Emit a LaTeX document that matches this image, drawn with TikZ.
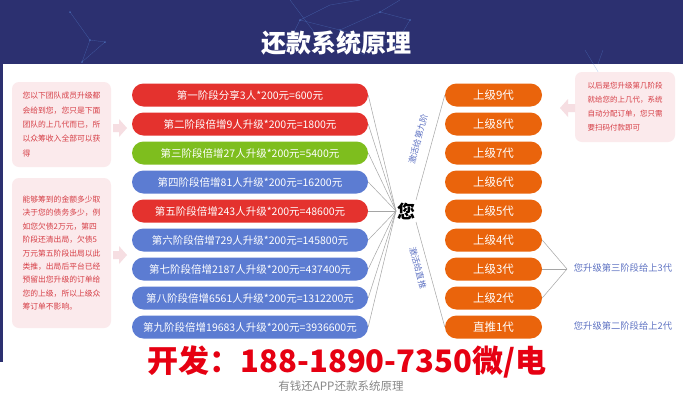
\documentclass[tikz,border=0pt]{standalone}
\usepackage{fontspec}
\setmainfont{Noto Sans CJK SC}
\definecolor{navy}{RGB}{44,48,112}
\definecolor{pred}{RGB}{228,50,46}
\definecolor{pgreen}{RGB}{126,190,30}
\definecolor{pblue}{RGB}{92,124,210}
\definecolor{porange}{RGB}{234,100,12}
\definecolor{boxpink}{RGB}{251,234,236}
\definecolor{arrpink}{RGB}{246,222,226}
\definecolor{txtpink}{RGB}{214,62,70}
\definecolor{lblue}{RGB}{95,115,195}
\definecolor{lgray}{RGB}{165,165,165}
\definecolor{bigred}{RGB}{230,0,18}
\definecolor{capgray}{RGB}{135,135,135}
\definecolor{netblue}{RGB}{90,140,220}
\tikzset{
  lpill/.style={rectangle, rounded corners=11.5pt, minimum width=236pt, minimum height=23pt,
    inner sep=0pt, text=white, font=\fontsize{10.5}{12}\selectfont},
  rpill/.style={rectangle, rounded corners=11.5pt, fill=porange, minimum width=97pt, minimum height=23pt,
    inner sep=0pt, text=white, font=\fontsize{11.5}{13}\selectfont},
  conn/.style={draw=lgray, line width=0.5pt},
  infobox/.style={rectangle, rounded corners=7pt, fill=boxpink, inner sep=0pt, align=left, text=txtpink},
  sidelbl/.style={text=lblue, font=\fontsize{8.5}{10}\selectfont, inner sep=1pt},
  notelbl/.style={text=lblue, font=\fontsize{9.3}{11}\selectfont, inner sep=0pt},
}
\begin{document}
\begin{tikzpicture}[x=1pt,y=-1pt]
\useasboundingbox (0,0) rectangle (683,400);
\fill[white] (0,0) rectangle (683,400);
\fill[navy] (0,0) rectangle (683,64);
\fill[navy] (0,0) rectangle (3,362);
% faint network decoration
\begin{scope}[draw=netblue, line width=0.3pt, opacity=0.45]
\draw (285,50) -- (300,20) -- (330,5) -- (360,0);
\draw (300,20) -- (340,30) -- (380,12) -- (400,0);
\draw (340,30) -- (395,45) -- (410,20) -- (380,12);
\draw (290,0) -- (320,40) -- (365,55);
\draw (70,12) -- (90,40) -- (82,62) -- (105,42) -- (90,40);
\draw (585,50) -- (600,75);
\draw (603,50) -- (598,64);
\end{scope}
\foreach \p in {(300,20),(340,30),(380,12),(395,45),(410,20),(320,40),(90,40),(105,42),(82,62),(70,12)}
  \fill[netblue, opacity=0.5] \p circle (1pt);
% title
\node[text=white, font=\fontsize{25}{28}\selectfont\bfseries] (title) at (336,43) {还款系统原理};
% left info boxes
\node[infobox, minimum width=99pt, minimum height=85pt, font=\fontsize{7.8}{14.3}\selectfont] (box1) at (61.5,124.5)
 {您以下团队成员升级都\\会给到您，您只是下面\\团队的上几代而已，所\\以众筹收入全部可以获\\得};
\node[infobox, minimum width=99pt, minimum height=150pt, font=\fontsize{7.8}{13.4}\selectfont] (box2) at (61.5,253)
 {能够筹到的金额多少取\\决于您的债务多少，例\\如您欠债2万元，第四\\阶段还清出局，欠债5\\万元第五阶段出局以此\\类推，出局后平台已经\\预留出您升级的订单给\\您的上级，所以上级众\\筹订单不影响。};
\node[infobox, minimum width=100pt, minimum height=70pt, font=\fontsize{7.5}{14}\selectfont] (box3) at (625,107)
 {以后是您升级第几阶段\\就给您的上几代，系统\\自动分配订单，您只需\\要扫码付款即可};
% pale block arrows
\fill[arrpink] (113,124) -- (119,124) -- (119,119) -- (127,128) -- (119,137) -- (119,132) -- (113,132) -- cycle;
\fill[arrpink] (113,251) -- (119,251) -- (119,246) -- (127,255) -- (119,264) -- (119,259) -- (113,259) -- cycle;
\fill[arrpink] (575,104) -- (568,104) -- (568,99) -- (560,108) -- (568,117) -- (568,112) -- (575,112) -- cycle;
% left pills
\node[lpill, fill=pred]   (p1) at (250,95)  {第一阶段分享3人*200元=600元};
\node[lpill, fill=pred]   (p2) at (250,124) {第二阶段倍增9人升级*200元=1800元};
\node[lpill, fill=pgreen] (p3) at (250,153) {第三阶段倍增27人升级*200元=5400元};
\node[lpill, fill=pblue]  (p4) at (250,182) {第四阶段倍增81人升级*200元=16200元};
\node[lpill, fill=pred]   (p5) at (250,211) {第五阶段倍增243人升级*200元=48600元};
\node[lpill, fill=pblue]  (p6) at (250,240) {第六阶段倍增729人升级*200元=145800元};
\node[lpill, fill=pblue]  (p7) at (250,269) {第七阶段倍增2187人升级*200元=437400元};
\node[lpill, fill=pblue]  (p8) at (250,298) {第八阶段倍增6561人升级*200元=1312200元};
\node[lpill, fill=pblue]  (p9) at (250,327) {第九阶段倍增19683人升级*200元=3936600元};
% right pills
\node[rpill] (r9) at (493.5,95)  {上级9代};
\node[rpill] (r8) at (493.5,124) {上级8代};
\node[rpill] (r7) at (493.5,153) {上级7代};
\node[rpill] (r6) at (493.5,182) {上级6代};
\node[rpill] (r5) at (493.5,211) {上级5代};
\node[rpill] (r4) at (493.5,240) {上级4代};
\node[rpill] (r3) at (493.5,269) {上级3代};
\node[rpill] (r2) at (493.5,298) {上级2代};
\node[rpill] (r1) at (493.5,327) {直推1代};
% you
\node[font=\fontsize{18}{20}\selectfont\bfseries, inner sep=0pt] (you) at (406,211) {您};
\coordinate (yl) at (396,211);
\coordinate (yu) at (416,200);
\coordinate (yd) at (416,222);
\foreach \i in {1,...,9} \draw[conn] (p\i.east) -- (yl);
\draw[conn] (yu) -- (r9.west);
\draw[conn] (yd) -- (r1.west);
\node[sidelbl, rotate=75] (lblu) at (418,139) {激活给第九阶};
\node[sidelbl, rotate=-75] (lbld) at (418,268) {激活给直推};
% bracket
\coordinate (bk) at (567,269);
\draw[conn] (r4.east) -- (bk);
\draw[conn] (r3.east) -- (bk);
\draw[conn] (r2.east) -- (bk);
\node[notelbl] (n3) at (623,268) {您升级第三阶段给上3代};
\node[notelbl] (n2) at (623,326) {您升级第二阶段给上2代};
% bottom
\node[text=bigred, font=\fontsize{31}{34}\selectfont\bfseries, inner sep=0pt] (contact) at (347,362) {开发：188-1890-7350微/电};
\node[text=capgray, font=\fontsize{11.5}{13}\selectfont, inner sep=0pt] (caption) at (341,386) {有钱还APP还款系统原理};
\end{tikzpicture}
\end{document}
